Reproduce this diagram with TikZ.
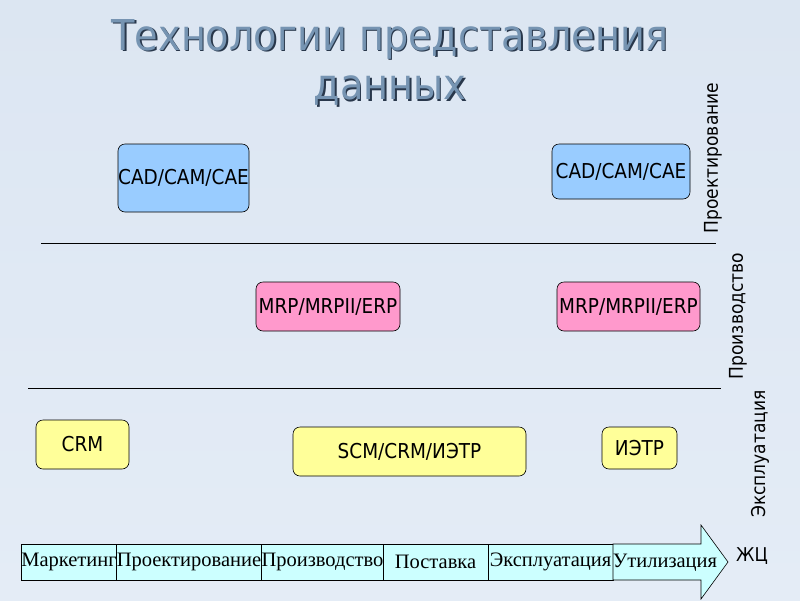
\documentclass[tikz,border=0pt]{standalone}
\usepackage{fontspec}
\setmainfont{Liberation Serif}
\newfontfamily\tah{DejaVu Sans Condensed}
\definecolor{bgc}{RGB}{228,236,246}
\definecolor{bgd}{RGB}{220,230,242}
\definecolor{cadc}{RGB}{153,204,255}
\definecolor{mrpc}{RGB}{255,153,204}
\definecolor{crmc}{RGB}{255,255,153}
\definecolor{cellc}{RGB}{204,255,255}
\definecolor{titlec}{RGB}{118,148,178}
\definecolor{titled}{RGB}{40,55,75}
\tikzset{
  sysbox/.style={draw=black, rounded corners=7pt, line width=0.6pt, font=\tah\fontsize{20.5}{24}\selectfont, inner sep=0pt},
  cell/.style={draw=black, line width=0.6pt, fill=cellc, minimum height=36pt, inner sep=0pt, font=\fontsize{20.5}{24}\selectfont},
  sidelab/.style={rotate=90, font=\tah\fontsize{19}{22}\selectfont, inner sep=0pt},
  sep/.style={draw=black, line width=0.7pt},
  ttl/.style={font=\tah\fontsize{42.5}{50}\selectfont, inner sep=0pt}
}
\begin{document}
\begin{tikzpicture}[x=1pt,y=-1pt]
\useasboundingbox (0,0) rectangle (800,600);
\shade[top color=bgd, bottom color=bgc] (0,0) rectangle (800,600);
% title
\node[ttl, text=titled] at (391.5,40.5) {Технологии представления};
\node[ttl, text=titled] at (391.5,92.5) {данных};
\node[ttl, text=titlec] (t1) at (390,39) {Технологии представления};
\node[ttl, text=titlec] (t2) at (390,91) {данных};
% boxes
\node[sysbox, fill=cadc, minimum width=131pt, minimum height=68pt] (cad1) at (183.5,178) {CAD/CAM/CAE};
\node[sysbox, fill=cadc, minimum width=138pt, minimum height=55pt] (cad2) at (621,171.5) {CAD/CAM/CAE};
\node[sysbox, fill=mrpc, minimum width=144pt, minimum height=49pt] (mrp1) at (328,306.5) {MRP/MRPII/ERP};
\node[sysbox, fill=mrpc, minimum width=143pt, minimum height=49pt] (mrp2) at (628.5,306.5) {MRP/MRPII/ERP};
\node[sysbox, fill=crmc, minimum width=93pt, minimum height=49pt] (crm) at (82.5,444.5) {CRM};
\node[sysbox, fill=crmc, minimum width=233pt, minimum height=49pt] (scm) at (409.5,451.5) {SCM/CRM/ИЭТР};
\node[sysbox, fill=crmc, minimum width=75pt, minimum height=42pt] (ietr) at (639.5,448) {ИЭТР};
% separators
\coordinate (l1a) at (41,243); \coordinate (l1b) at (716,243);
\coordinate (l2a) at (28,388); \coordinate (l2b) at (721,388);
\draw[sep] (l1a) -- (l1b);
\draw[sep] (l2a) -- (l2b);
% side labels
\node[sidelab] (s1) at (713,158) {Проектирование};
\node[sidelab] (s2) at (738,316) {Производство};
\node[sidelab] (s3) at (760,454) {Эксплуатация};
% life cycle
\node[cell, minimum width=94pt] (c1) at (69,562) {Маркетинг};
\node[cell, minimum width=146pt] (c2) at (189,562) {Проектирование};
\node[cell, minimum width=121pt] (c3) at (322.5,562) {Производство};
\node[cell, minimum width=105pt] (c4) at (435.5,562) {Поставка};
\node[cell, minimum width=125pt] (c5) at (550.5,562) {Эксплуатация};
\draw[line width=0.6pt, fill=cellc] (613,544) -- (701,544) -- (701,525) -- (728,562) -- (701,599) -- (701,580) -- (613,580) -- cycle;
\node[font=\fontsize{20.5}{24}\selectfont, inner sep=0pt] (c6) at (665,563) {Утилизация};
\node[font=\tah\fontsize{19}{22}\selectfont, inner sep=0pt] (zc) at (752,556) {ЖЦ};
\end{tikzpicture}
\end{document}
